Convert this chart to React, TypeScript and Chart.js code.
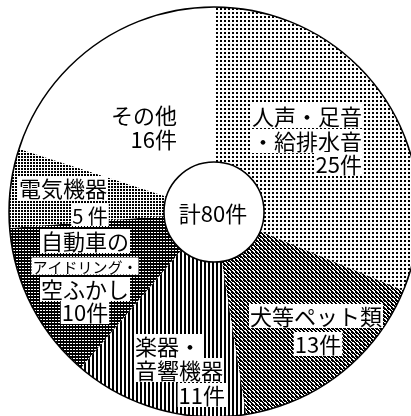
import { useEffect, useRef } from 'react';
import { Chart, registerables } from 'chart.js';

Chart.register(...registerables);

const categories = ['人声・足音・給排水音', '犬等ペット類', '楽器・音響機器', '自動車のアイドリング・空ふかし', '電気機器', 'その他'];
const counts = [25, 13, 11, 10, 5, 16];
const totalLabel = '計80件';
const labelLines = [
  ['人声・足音', '・給排水音', '25件'],
  ['犬等ペット類', '13件'],
  ['楽器・', '音響機器', '11件'],
  ['自動車の', 'アイドリング・', '空ふかし', '10件'],
  ['電気機器', '5 件'],
  ['その他', '16件'],
];

// layout of label lines: [dx, dy, align, fontSize] relative to pie centre
const labelLayout: [number, number, CanvasTextAlign, number][][] = [
  [[148, -96, 'right', 22], [148, -71, 'right', 22], [148, -48, 'right', 22]],
  [[102, 104, 'center', 22], [104, 132, 'center', 22]],
  [[-79, 134, 'left', 22], [-79, 158, 'left', 22], [11, 183, 'right', 22]],
  [[-129, 29, 'center', 22], [-129, 54, 'center', 15], [-129, 77, 'center', 22], [-129, 100, 'center', 22]],
  [[-151, -24, 'center', 22], [-124, 3, 'center', 20]],
  [[-37, -97, 'right', 22], [-37, -73, 'right', 22]],
];

function makePattern(kind: string): CanvasPattern | string {
  const c = document.createElement('canvas');
  const ctx = c.getContext('2d')!;
  const px = (x: number, y: number) => ctx.fillRect(x, y, 1, 1);
  if (kind === 'dots') {
    c.width = 4; c.height = 4;
    ctx.fillStyle = '#fff'; ctx.fillRect(0, 0, 4, 4);
    ctx.fillStyle = '#000';
    ctx.fillRect(0, 0, 2, 2);
  } else if (kind === 'diag') {
    c.width = 4; c.height = 4;
    ctx.fillStyle = '#fff'; ctx.fillRect(0, 0, 4, 4);
    ctx.fillStyle = '#000';
    for (let i = 0; i < 4; i++) { px(i, i); px((i + 1) % 4, i); }
    px(3, 0); px(0, 1);
  } else if (kind === 'vert') {
    c.width = 4; c.height = 4;
    ctx.fillStyle = '#fff'; ctx.fillRect(0, 0, 4, 4);
    ctx.fillStyle = '#000';
    ctx.fillRect(0, 0, 2, 4);
  } else if (kind === 'dense') {
    c.width = 3; c.height = 3;
    ctx.fillStyle = '#000'; ctx.fillRect(0, 0, 3, 3);
    ctx.fillStyle = '#fff';
    px(1, 1); px(2, 1);
  } else if (kind === 'dots2') {
    c.width = 3; c.height = 3;
    ctx.fillStyle = '#fff'; ctx.fillRect(0, 0, 3, 3);
    ctx.fillStyle = '#000';
    ctx.fillRect(0, 0, 2, 2);
  } else {
    return '#ffffff';
  }
  return ctx.createPattern(c, 'repeat')!;
}

const patternKinds = ['dots', 'diag', 'vert', 'dense', 'dots2', 'white'];
const FONT = '"Noto Sans CJK JP", sans-serif';

const overlayPlugin = {
  id: 'overlay',
  afterDatasetsDraw(chart: any) {
    const meta = chart.getDatasetMeta(0);
    const arc = meta.data[0];
    if (!arc) return;
    const { x: cx, y: cy, outerRadius, innerRadius } = arc.getProps(['x', 'y', 'outerRadius', 'innerRadius'], true);
    const ctx: CanvasRenderingContext2D = chart.ctx;
    ctx.save();
    ctx.beginPath();
    ctx.arc(cx, cy, outerRadius, 0, Math.PI * 2);
    ctx.lineWidth = 1.5;
    ctx.strokeStyle = '#000';
    ctx.stroke();
    ctx.beginPath();
    ctx.arc(cx, cy, innerRadius, 0, Math.PI * 2);
    ctx.fillStyle = '#fff';
    ctx.fill();
    ctx.stroke();
    ctx.textBaseline = 'middle';
    labelLines.forEach((lines, i) => {
      lines.forEach((t, j) => {
        const [dx, dy, align, size] = labelLayout[i][j];
        ctx.font = `${size}px ${FONT}`;
        ctx.textAlign = align;
        const w = ctx.measureText(t).width;
        const x = cx + dx;
        const y = cy + dy;
        const left = align === 'right' ? x - w : align === 'center' ? x - w / 2 : x;
        ctx.fillStyle = '#fff';
        ctx.fillRect(left - 1, y - size / 2 - 1, w + 2, size + 2);
        ctx.fillStyle = '#000';
        ctx.fillText(t, x, y + 1);
      });
    });
    ctx.font = `22px ${FONT}`;
    ctx.textAlign = 'center';
    ctx.fillStyle = '#000';
    ctx.fillText(totalLabel, cx - 1, cy + 2);
    ctx.restore();
  },
};

export default function App() {
  const ref = useRef<HTMLCanvasElement>(null);
  useEffect(() => {
    document.body.style.margin = '0';
    document.body.style.overflow = 'hidden';
    const chart = new Chart(ref.current!, {
      type: 'doughnut',
      data: {
        labels: categories,
        datasets: [{
          data: counts,
          backgroundColor: patternKinds.map(makePattern) as any,
          borderWidth: 0,
        }],
      },
      options: {
        responsive: false,
        animation: false,
        cutout: '24.4%',
        layout: { padding: { left: 9, right: 9, top: 7, bottom: 7 } },
        plugins: { legend: { display: false }, tooltip: { enabled: false } },
      },
      plugins: [overlayPlugin],
    });
    return () => chart.destroy();
  }, []);
  return (
    <div style={{ position: 'fixed', left: 0, top: 0, width: 411, height: 416, overflow: 'hidden', background: '#fff' }}>
      <canvas ref={ref} width={428} height={424} style={{ width: 428, height: 424, display: 'block' }} />
    </div>
  );
}
